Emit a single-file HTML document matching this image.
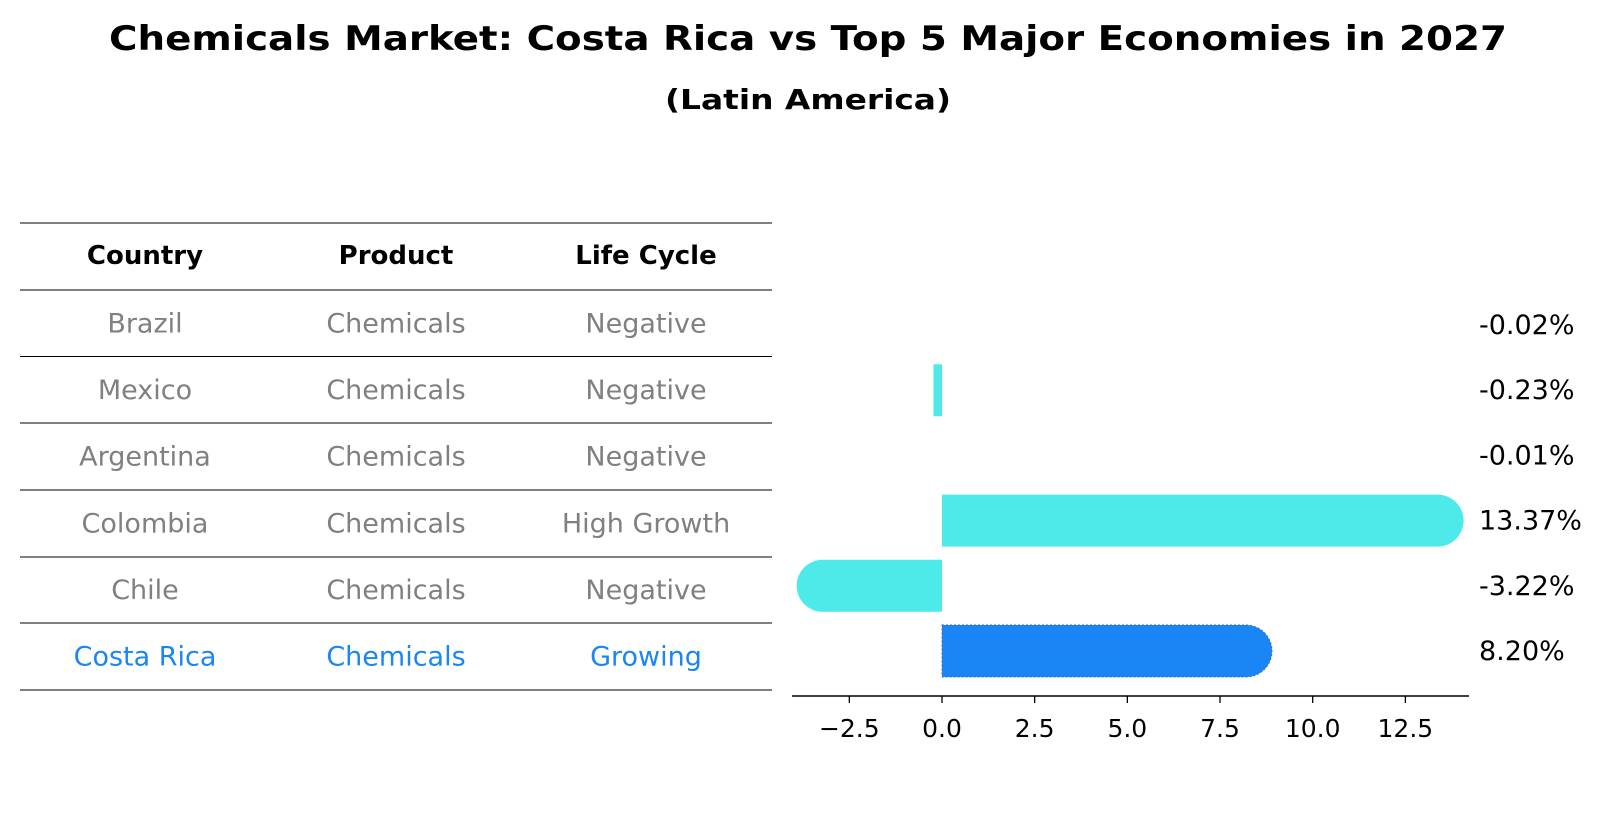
<!DOCTYPE html>
<html><head><meta charset="utf-8"><style>
html,body{margin:0;padding:0;background:#fff;}
svg{display:block;font-family:"DejaVu Sans","Liberation Sans",sans-serif;}
</style></head><body>
<svg id="chart" width="1604" height="823" viewBox="0 0 1604 823">
<text x="808" y="50" text-anchor="middle" font-size="34" font-weight="bold" textLength="1398" lengthAdjust="spacingAndGlyphs">Chemicals Market: Costa Rica vs Top 5 Major Economies in 2027</text>
<text x="808" y="109" text-anchor="middle" font-size="28" font-weight="bold" textLength="286" lengthAdjust="spacingAndGlyphs">(Latin America)</text>
<g id="table"></g>
<g id="bars"></g>
</svg>
<script>
const countries=["Brazil","Mexico","Argentina","Colombia","Chile","Costa Rica"];
const products=["Chemicals","Chemicals","Chemicals","Chemicals","Chemicals","Chemicals"];
const lifeCycles=["Negative","Negative","Negative","High Growth","Negative","Growing"];
const growth=[-0.02,-0.23,-0.01,13.37,-3.22,8.20];
const valueLabels=["-0.02%","-0.23%","-0.01%","13.37%","-3.22%","8.20%"];
const ticks=[-2.5,0,2.5,5,7.5,10,12.5];
const tickLabels=["\u22122.5","0.0","2.5","5.0","7.5","10.0","12.5"];

const NS="http://www.w3.org/2000/svg";
function mk(tag,attrs,parent){const e=document.createElementNS(NS,tag);for(const k in attrs)e.setAttribute(k,attrs[k]);parent.appendChild(e);return e;}
const X=v=>942+v*37.07;
const rowY=i=>325+i*65.2;

// table
const tbl=document.getElementById('table');
const lineYs=[223,290,356.5,423,490,557,623,690];
lineYs.forEach((y,i)=>{const l=mk('line',{x1:20,x2:772,y1:y,y2:y,stroke:'#000','stroke-width':1},tbl);

});
const colX=[145,396,646];
["Country","Product","Life Cycle"].forEach((h,j)=>{const t=mk('text',{x:colX[j],y:264,'text-anchor':'middle','font-size':26,'font-weight':'bold'},tbl);t.textContent=h;

});
countries.forEach((c,i)=>{
  const y=(lineYs[i+1]+lineYs[i+2])/2+9;
  const col=i===countries.length-1?'#1a86f5':'#808080';
  [c,products[i],lifeCycles[i]].forEach((v,j)=>{const t=mk('text',{x:colX[j],y:y,'text-anchor':'middle','font-size':27,fill:col},tbl);t.textContent=v;
  
  });
});

// bars
const g=document.getElementById('bars');
const h=52,r=26;
growth.forEach((v,i)=>{
  const cy=rowY(i),x0=X(0),x1=X(v);
  const hl=i===growth.length-1;
  const fill=hl?'#1a86f5':'#4eeaea';
  const w=Math.abs(x1-x0);
  let d;
  if(w>r){
    if(v>0)d=`M${x0},${cy-h/2}H${x1}A${r},${r} 0 0 1 ${x1},${cy+h/2}H${x0}Z`;
    else d=`M${x0},${cy-h/2}H${x1}A${r},${r} 0 0 0 ${x1},${cy+h/2}H${x0}Z`;
  } else if(w>=2){
    d=`M${Math.min(x0,x1)},${cy-h/2}h${w}v${h}h${-w}Z`;
  } else d=null;
  if(d){
    const p=mk('path',{d:d,fill:fill},g);
    if(hl){p.setAttribute('stroke','#3a6fb0');p.setAttribute('stroke-width','1');p.setAttribute('stroke-dasharray','2,2');}
    
    
  }
  const t=mk('text',{x:1479,y:cy+9,'font-size':27},g);t.textContent=valueLabels[i];
  
  
});
const ax=mk('line',{x1:792,x2:1469,y1:696,y2:696,stroke:'#000','stroke-width':1.5},g);


ticks.forEach((t,i)=>{
  const tl=mk('line',{x1:X(t),x2:X(t),y1:696,y2:703,stroke:'#000','stroke-width':1.3},g);
  
  
  const tx=mk('text',{x:X(t),y:737,'text-anchor':'middle','font-size':25},g);tx.textContent=tickLabels[i];
  
  
});
</script>
</body></html>
